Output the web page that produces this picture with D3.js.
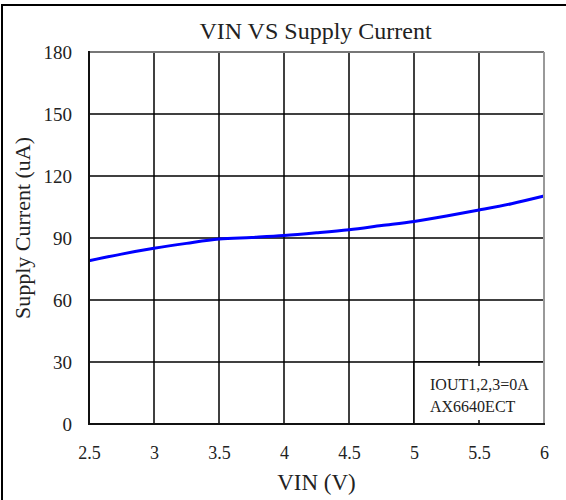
<!DOCTYPE html>
<html>
<head>
<meta charset="utf-8">
<script src="https://cdn.jsdelivr.net/npm/d3@7"></script>
<style>
  html, body { margin: 0; padding: 0; background: #fff; }
  svg { display: block; }
  svg text { font-family: "Liberation Serif", "DejaVu Serif", serif; fill: #222; }
</style>
</head>
<body>
<div id="chart"></div>
<script>
// values
const vin = [2.5, 2.75, 3, 3.25, 3.5, 3.75, 4, 4.25, 4.5, 4.75, 5, 5.25, 5.5, 5.75, 6];
const current = [79, 82.2, 85, 87.4, 89.5, 90.3, 91.2, 92.5, 94, 96, 98, 100.6, 103.5, 106.6, 110.3];
const xTicks = [2.5, 3, 3.5, 4, 4.5, 5, 5.5, 6];
const yTicks = [0, 30, 60, 90, 120, 150, 180];
const noteLines = ['IOUT1,2,3=0A', 'AX6640ECT'];

const width = 566, height = 500;
const plot = { left: 89, top: 52, right: 544, bottom: 424 };

const svg = d3.select('#chart').append('svg')
    .attr('width', width)
    .attr('height', height);

// outer frame (right/bottom edges fall off the picture)
svg.append('rect')
    .attr('x', 2).attr('y', 5)
    .attr('width', width + 10).attr('height', height + 10)
    .attr('fill', 'none')
    .attr('stroke', '#000')
    .attr('stroke-width', 2);

const x = d3.scaleLinear().domain([2.5, 6]).range([plot.left, plot.right]);
const y = d3.scaleLinear().domain([0, 180]).range([plot.bottom, plot.top]);

// grid
const grid = svg.append('g').attr('stroke', '#000').attr('stroke-width', 1.5);
grid.selectAll('.vx').data(xTicks.slice(1, -1)).enter().append('line')
    .attr('x1', d => x(d)).attr('x2', d => x(d))
    .attr('y1', plot.top).attr('y2', plot.bottom);
grid.selectAll('.hy').data(yTicks.slice(1, -1)).enter().append('line')
    .attr('x1', plot.left).attr('x2', plot.right)
    .attr('y1', d => y(d)).attr('y2', d => y(d));

// curve
const line = d3.line()
    .x((d, i) => x(vin[i]))
    .y(d => y(d))
    .curve(d3.curveMonotoneX);

svg.append('path')
    .datum(current)
    .attr('d', line)
    .attr('fill', 'none')
    .attr('stroke', '#0000ff')
    .attr('stroke-width', 3);

// note box covers the grid in the lower right cell pair
const boxX = x(5), boxY = y(30);
svg.append('rect')
    .attr('x', boxX).attr('y', boxY)
    .attr('width', plot.right - boxX).attr('height', plot.bottom - boxY)
    .attr('fill', '#fff')
    .attr('stroke', '#000')
    .attr('stroke-width', 1.5);
svg.selectAll('.stub').data([[boxY, boxY + 4], [plot.bottom - 4, plot.bottom]]).enter().append('line')
    .attr('x1', x(5.5)).attr('x2', x(5.5))
    .attr('y1', d => d[0]).attr('y2', d => d[1])
    .attr('stroke', '#000').attr('stroke-width', 1.5);
svg.selectAll('.note').data(noteLines).enter().append('text')
    .attr('x', boxX + 16)
    .attr('y', (d, i) => 390 + i * 22)
    .style('font-size', '16px')
    .text(d => d);

// plot frame: top/right gray, left/bottom black
svg.append('line').attr('x1', plot.left).attr('x2', plot.right).attr('y1', plot.top).attr('y2', plot.top)
    .attr('stroke', '#777').attr('stroke-width', 2);
svg.append('line').attr('x1', plot.right).attr('x2', plot.right).attr('y1', plot.top).attr('y2', plot.bottom)
    .attr('stroke', '#999').attr('stroke-width', 2);
svg.append('line').attr('x1', plot.left).attr('x2', plot.left).attr('y1', plot.top - 1).attr('y2', plot.bottom + 1)
    .attr('stroke', '#111').attr('stroke-width', 2);
svg.append('line').attr('x1', plot.left - 1).attr('x2', plot.right + 1).attr('y1', plot.bottom).attr('y2', plot.bottom)
    .attr('stroke', '#111').attr('stroke-width', 2);

// tick labels
const xAxis = d3.axisBottom(x).tickValues(xTicks).tickSize(0).tickPadding(22).tickFormat(d3.format('~g'));
const gx = svg.append('g').attr('transform', `translate(0,${plot.bottom})`).call(xAxis)
    .attr('font-family', null).attr('font-size', null);
gx.select('.domain').remove();
gx.selectAll('text').style('font-size', '18px');

const yAxis = d3.axisLeft(y).tickValues(yTicks).tickSize(0).tickPadding(17);
const gy = svg.append('g').attr('transform', `translate(${plot.left},0)`).call(yAxis)
    .attr('font-family', null).attr('font-size', null);
gy.select('.domain').remove();
gy.selectAll('text').style('font-size', '19px');

// titles
svg.append('text')
    .attr('x', (plot.left + plot.right) / 2 - 1)
    .attr('y', 39)
    .attr('text-anchor', 'middle')
    .style('font-size', '24px')
    .text('VIN VS Supply Current');

svg.append('text')
    .attr('x', (plot.left + plot.right) / 2)
    .attr('y', 490)
    .attr('text-anchor', 'middle')
    .style('font-size', '23px')
    .text('VIN (V)');

svg.append('text')
    .attr('transform', 'translate(30,228) rotate(-90)')
    .attr('text-anchor', 'middle')
    .style('font-size', '22px')
    .text('Supply Current (uA)');
</script>
</body>
</html>
